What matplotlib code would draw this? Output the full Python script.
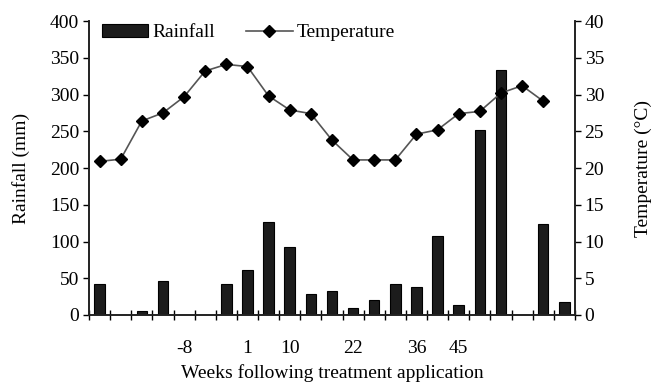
import numpy as np
import matplotlib.pyplot as plt

plt.rcParams['font.family'] = ['Liberation Serif', 'DejaVu Serif']

# weekly rainfall (mm), one value per category slot (0 = no bar)
rainfall = [42, 0, 5, 46, 0, 0, 42, 61, 126, 92, 29, 32, 10, 20, 42, 38,
            107, 14, 252, 334, 0, 124, 18]
# mean temperature (deg C); last slot has no reading
temperature = [20.9, 21.2, 26.4, 27.5, 29.7, 33.2, 34.1, 33.8, 29.8, 27.9,
               27.4, 23.8, 21.1, 21.1, 21.1, 24.6, 25.2, 27.4, 27.7, 30.2,
               31.2, 29.1, np.nan]
# only some slots carry a week label
week_labels = {4: '-8', 7: '1', 9: '10', 12: '22', 15: '36', 17: '45'}

n = len(rainfall)
x = np.arange(n)
fs = 14

fig = plt.figure(figsize=(6.57, 3.82), dpi=100)
ax = fig.add_axes([0.1355, 0.1754, 0.7395, 0.7696])
ax2 = ax.twinx()

bars = ax.bar(x, rainfall, width=0.5, color='#1c1c1c', edgecolor='black',
              linewidth=0.8, label='Rainfall', zorder=2)
line, = ax2.plot(x, temperature, color='#555555', linewidth=1.2, marker='D',
                 markersize=6, markerfacecolor='black', markeredgecolor='black',
                 label='Temperature', zorder=3)

ax.set_xlim(-0.5, n - 0.5)
ax.set_ylim(0, 400)
ax2.set_ylim(0, 40)
ax.set_yticks(np.arange(0, 401, 50))
ax2.set_yticks(np.arange(0, 41, 5))

# labels at category centres, tick marks at the boundaries
ax.set_xticks(list(week_labels.keys()))
ax.set_xticklabels(list(week_labels.values()))
ax.set_xticks(np.arange(-0.5, n, 1), minor=True)
ax.tick_params(axis='x', which='major', length=0, pad=18, labelsize=fs)
ax.tick_params(axis='x', which='minor', direction='inout', length=7, width=1)
ax.tick_params(axis='y', labelsize=fs, length=4, width=1, pad=3)
ax2.tick_params(axis='y', labelsize=fs, length=4, width=1, pad=3)

for a in (ax, ax2):
    a.spines['top'].set_visible(False)
    for s in a.spines.values():
        s.set_linewidth(1.2)
        s.set_color('#222222')

ax.set_ylabel('Rainfall (mm)', fontsize=fs, labelpad=14)
ax2.set_ylabel('Temperature (°C)', fontsize=fs, rotation=90, labelpad=22)
ax.set_xlabel('Weeks following treatment application', fontsize=fs, labelpad=5)

ax.legend([bars, line], ['Rainfall', 'Temperature'], loc='upper left',
          ncol=2, frameon=False, fontsize=fs, bbox_to_anchor=(-0.01, 1.05),
          handlelength=2.4, handletextpad=0.2, columnspacing=1.6)

fig.savefig('out.png', dpi=100)
